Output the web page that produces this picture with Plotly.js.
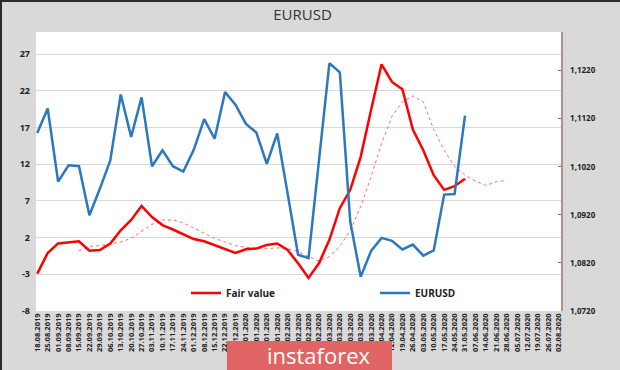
<!DOCTYPE html>
<html>
<head>
<meta charset="utf-8">
<script src="https://cdn.plot.ly/plotly-3.0.1.min.js"></script>
<style>html,body{margin:0;padding:0;background:#d9d9d9;}#chart{width:620px;height:370px;}</style>
</head>
<body>
<div id="chart"></div>
<script>
const dates = ["18.08.2019","25.08.2019","01.09.2019","08.09.2019","15.09.2019","22.09.2019","29.09.2019","06.10.2019","13.10.2019","20.10.2019","27.10.2019","03.11.2019","10.11.2019","17.11.2019","24.11.2019","01.12.2019","08.12.2019","15.12.2019","22.12.2019","29.12.2019","05.01.2020","12.01.2020","19.01.2020","26.01.2020","02.02.2020","09.02.2020","16.02.2020","23.02.2020","01.03.2020","08.03.2020","15.03.2020","22.03.2020","29.03.2020","05.04.2020","12.04.2020","19.04.2020","26.04.2020","03.05.2020","10.05.2020","17.05.2020","24.05.2020","31.05.2020","07.06.2020","14.06.2020","21.06.2020","28.06.2020","05.07.2020","12.07.2020","19.07.2020","26.07.2020","02.08.2020"];

const fairValue = [-2.9,-0.1,1.2,1.4,1.5,0.2,0.3,1.2,3.0,4.4,6.3,4.8,3.7,3.1,2.5,1.8,1.5,1.0,0.4,-0.1,0.4,0.5,1.0,1.2,0.3,-1.5,-3.5,-1.5,1.7,6.0,8.5,13.0,19.4,25.6,23.2,22.2,16.7,13.9,10.5,8.5,9.0,10.0];

const fairValueLagStart = 4;
const fairValueLag = [0.2,0.8,0.9,1.1,1.4,1.9,2.8,3.8,4.4,4.4,4.0,3.3,2.5,1.9,1.4,0.9,0.7,0.5,0.5,0.6,0.5,0.1,-0.6,-1.2,-0.6,0.8,3.0,6.2,10.3,14.8,18.5,20.5,21.3,20.5,16.7,13.9,11.7,10.5,9.7,9.1,9.6,9.8];

const eurusd = [1.1090,1.1141,1.0989,1.1023,1.1021,1.0919,1.0974,1.1033,1.1170,1.1082,1.1164,1.1021,1.1054,1.1021,1.1010,1.1055,1.1119,1.1078,1.1175,1.1149,1.1109,1.1091,1.1026,1.1089,1.0964,1.0837,1.0830,1.1033,1.1235,1.1216,1.0906,1.0791,1.0845,1.0872,1.0866,1.0848,1.0858,1.0835,1.0846,1.0962,1.0963,1.1126];

const leftTicks = [-8,-3,2,7,12,17,22,27];
const rightTicks = [1.0720,1.0820,1.0920,1.1020,1.1120,1.1220];
const rightTickText = ["1,0720","1,0820","1,0920","1,1020","1,1120","1,1220"];

const traces = [
  {x: dates.slice(fairValueLagStart, fairValueLagStart + fairValueLag.length), y: fairValueLag,
   type:'scatter', mode:'lines', name:'Fair value (lag)', showlegend:false,
   line:{color:'#ff6b6b', width:1, dash:'dot'}, yaxis:'y'},
  {x: dates.slice(0, fairValue.length), y: fairValue, type:'scatter', mode:'lines', name:'Fair value',
   line:{color:'#ff0000', width:2.5}, yaxis:'y', legend:'legend'},
  {x: dates.slice(0, eurusd.length), y: eurusd, type:'scatter', mode:'lines', name:'EURUSD',
   line:{color:'#2a78c0', width:2.5}, yaxis:'y2', legend:'legend2'}
];

const L = 36, R = 561, T = 32, B = 311, W = 620, H = 370;
const px = v => (v - L) / (R - L);
const py = v => (B - v) / (B - T);

const baseFont = 'Open Sans, Arial, sans-serif';
const tickFont = {family: baseFont, size:8, color:'#222', weight:'bold'};
const leftTickFont = {family: baseFont, size:9, color:'#222', weight:'bold'};
const legendFont = {family: baseFont, size:10, color:'#222', weight:'bold'};

const layout = {
  width: W, height: H,
  margin: {l: L, r: W - R, t: T, b: H - B, pad: 0},
  paper_bgcolor: '#d9d9d9',
  plot_bgcolor: '#ffffff',
  title: {text:'EURUSD', x: 0.488, xref:'container', xanchor:'center', y: 1 - 15/H, yref:'container', yanchor:'middle',
          font:{family: baseFont, size:15, color:'#333'}},
  showlegend: true,
  legend: {orientation:'h', x: px(186), y: py(293), xanchor:'left', yanchor:'middle',
           bgcolor:'rgba(0,0,0,0)', font: legendFont},
  legend2: {orientation:'h', x: px(375), y: py(293), xanchor:'left', yanchor:'middle',
           bgcolor:'rgba(0,0,0,0)', font: legendFont},
  xaxis: {type:'category', categoryorder:'array', categoryarray: dates,
          range:[-0.12, 50.2], tickmode:'array', tickvals: dates, ticktext: dates,
          tickangle:-90, tickfont:{family: baseFont, size:7.5, color:'#222', weight:'bold'},
          showgrid:false, showline:false, zeroline:false, ticks:'', fixedrange:true},
  yaxis: {range:[-8, 30], tickmode:'array', tickvals: leftTicks, ticktext: leftTicks.map(String),
          showgrid:true, gridcolor:'#d9d9d9', gridwidth:1, zeroline:false, showline:false,
          ticks:'', tickfont: leftTickFont, ticklabelstandoff: 5},
  yaxis2: {overlaying:'y', side:'right', range:[1.0720, 1.1300], tickmode:'array',
           tickvals: rightTicks, ticktext: rightTickText, showgrid:false, zeroline:false,
           showline:true, linecolor:'#b58d8d', linewidth:1.5, ticks:'inside', ticklen:3,
           tickcolor:'#777', tickfont: tickFont, ticklabelstandoff: 6},
  shapes: [
    {type:'rect', xref:'paper', yref:'paper', x0: px(227), x1: px(392), y0: py(371), y1: py(341),
     fillcolor:'#e06464', line:{width:0}, layer:'above'},
    {type:'rect', xref:'paper', yref:'paper', x0: px(0), x1: px(620), y0: py(2), y1: py(-1),
     fillcolor:'#2b2b2b', line:{width:0}, layer:'above'},
    {type:'rect', xref:'paper', yref:'paper', x0: px(-1), x1: px(2), y0: py(371), y1: py(0),
     fillcolor:'#2b2b2b', line:{width:0}, layer:'above'}
  ],
  annotations: [
    {text:'instaforex', xref:'paper', yref:'paper', x: px(319), y: py(355), showarrow:false,
     xanchor:'center', yanchor:'middle',
     font:{family: baseFont, size:22, color:'#ffffff'}}
  ]
};

Plotly.newPlot('chart', traces, layout, {displayModeBar:false, staticPlot:true});
</script>
</body>
</html>
